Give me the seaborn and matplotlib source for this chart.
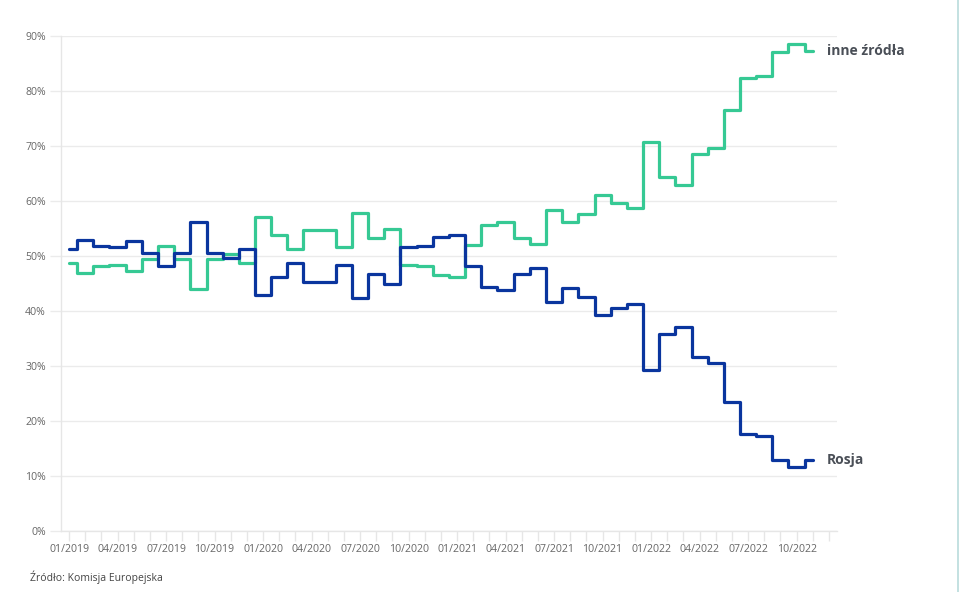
import matplotlib
matplotlib.use("Agg")
import matplotlib.pyplot as plt
import seaborn as sns
import pandas as pd
from matplotlib.lines import Line2D

# ---- data (monthly, 01/2019 .. 11/2022) ----
rosja = [51.3, 53.0, 51.8, 51.6, 52.8, 50.6, 48.2, 50.6, 56.2, 50.6, 49.6, 51.3,
         42.9, 46.2, 48.7, 45.3, 45.3, 48.3, 42.4, 46.8, 45.0, 51.7, 51.9, 53.5,
         53.8, 48.1, 44.4, 43.9, 46.7, 47.8, 41.6, 44.1, 42.6, 39.2, 40.5, 41.2,
         29.3, 35.8, 37.1, 31.6, 30.5, 23.5, 17.7, 17.3, 13.0, 11.6, 12.9]
inne = [48.7, 47.0, 48.2, 48.4, 47.3, 49.5, 51.8, 49.5, 44.0, 49.5, 50.4, 48.7,
        57.1, 53.8, 51.3, 54.7, 54.7, 51.7, 57.8, 53.2, 55.0, 48.3, 48.1, 46.6,
        46.2, 52.0, 55.7, 56.2, 53.3, 52.2, 58.4, 56.1, 57.6, 61.1, 59.6, 58.8,
        70.8, 64.4, 63.0, 68.5, 69.6, 76.6, 82.3, 82.8, 87.1, 88.5, 87.2]
tick_labels = ["01/2019", "04/2019", "07/2019", "10/2019",
               "01/2020", "04/2020", "07/2020", "10/2020",
               "01/2021", "04/2021", "07/2021", "10/2021",
               "01/2022", "04/2022", "07/2022", "10/2022"]
series_names = ["Rosja", "inne źródła"]
source_text = "Źródło: Komisja Europejska"

BLUE = "#0a359e"
GREEN = "#36c994"
TEXT = "#4a4f57"
GRID = "#ebebeb"

sns.set_style("white")
plt.rcParams["font.family"] = ["Open Sans", "DejaVu Sans"]

fig = plt.figure(figsize=(9.6, 5.92), dpi=100)
ax = fig.add_axes([61/960, 61/592, 776/960, 495/592])

idx = list(range(len(rosja)))
df = pd.DataFrame({"m": idx, "Rosja": rosja, "inne": inne})

sns.lineplot(data=df, x="m", y="inne", ax=ax, color=GREEN, lw=2.3,
             drawstyle="steps-mid", zorder=3)
sns.lineplot(data=df, x="m", y="Rosja", ax=ax, color=BLUE, lw=2.3,
             drawstyle="steps-mid", zorder=4)

ax.set_xlim(-0.5, 47.5)
ax.set_ylim(0, 90)
ax.set_xlabel("")
ax.set_ylabel("")

# y axis
yt = list(range(0, 91, 10))
ax.set_yticks(yt)
ax.set_yticklabels([f"{v}%" for v in yt])
ax.yaxis.grid(True, color=GRID, lw=1)
ax.set_axisbelow(True)

# x axis
ax.set_xticks(list(range(0, 48, 3)))
ax.set_xticklabels(tick_labels)
ax.set_xticks(list(range(0, 48)), minor=True)

ax.tick_params(axis="y", length=8, width=1, color=GRID, pad=3,
               labelsize=7.6, labelcolor="#666666", left=True)
ax.tick_params(axis="x", which="both", length=7, width=1, color="#e6e6e6",
               pad=2, labelsize=7.6, labelcolor="#666666", bottom=True)

for s in ["top", "right"]:
    ax.spines[s].set_visible(False)
ax.spines["left"].set_color("#e6e6e6")
ax.spines["bottom"].set_color("#e6e6e6")
ax.spines["left"].set_linewidth(1)
ax.spines["bottom"].set_linewidth(1)

# end labels
last = len(rosja) - 1
ax.annotate(series_names[1], xy=(last, inne[last]), xytext=(10, 0),
            textcoords="offset points", va="center", ha="left",
            fontsize=10, fontweight="bold", color=TEXT, annotation_clip=False)
ax.annotate(series_names[0], xy=(last, rosja[last]), xytext=(10, 0),
            textcoords="offset points", va="center", ha="left",
            fontsize=10, fontweight="bold", color=TEXT, annotation_clip=False)

fig.text(30/960, 1 - 577/592, source_text, fontsize=7.5, color="#444444",
         ha="left", va="center")

fig.add_artist(Line2D([957.5/960, 957.5/960], [0, 1], color="#b9dcdc", lw=1.2))

fig.savefig("out.png", dpi=100)
